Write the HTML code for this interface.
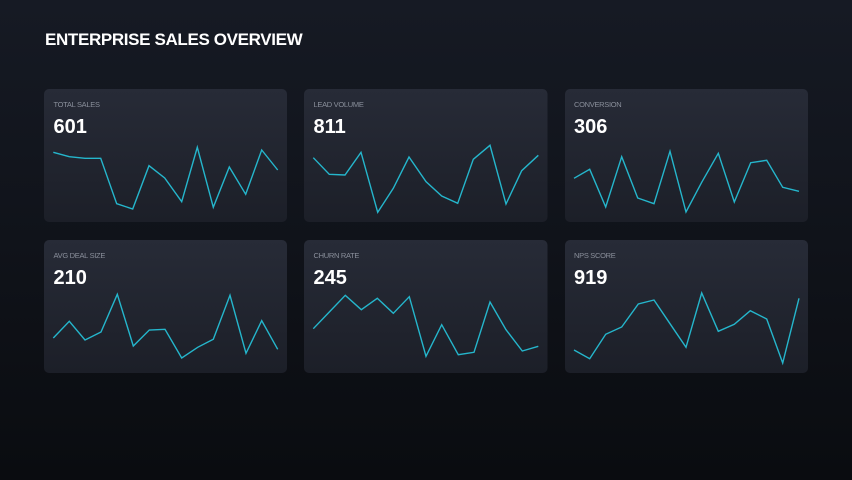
<!DOCTYPE html>
<html>
<head>
<meta charset="utf-8">
<style>
html,body{margin:0;padding:0;}
body{width:852px;height:480px;overflow:hidden;background:linear-gradient(180deg,#161a24 0%,#10131a 50%,#0a0c10 100%);}
svg{position:absolute;left:0;top:0;}
</style>
</head>
<body>
<svg width="852" height="480" viewBox="0 0 852 480" xmlns="http://www.w3.org/2000/svg">
  <defs>
    <linearGradient id="cg" x1="0" y1="0" x2="0" y2="1">
      <stop offset="0" stop-color="#272b37"/>
      <stop offset="1" stop-color="#1c1f28"/>
    </linearGradient>
  </defs>
  <text x="45" y="45" font-family="Liberation Sans, sans-serif" font-weight="bold" font-size="17" fill="#ffffff" letter-spacing="-0.35">ENTERPRISE SALES OVERVIEW</text>

  <g>
    <rect x="44" y="89" width="243" height="133" rx="5" fill="url(#cg)"/>
    <rect x="304" y="89" width="243.5" height="133" rx="5" fill="url(#cg)"/>
    <rect x="565" y="89" width="243" height="133" rx="5" fill="url(#cg)"/>
    <rect x="44" y="240" width="243" height="133" rx="5" fill="url(#cg)"/>
    <rect x="304" y="240" width="243.5" height="133" rx="5" fill="url(#cg)"/>
    <rect x="565" y="240" width="243" height="133" rx="5" fill="url(#cg)"/>
  </g>

  <g font-family="Liberation Sans, sans-serif" font-size="7.5" fill="#8a8f9b" letter-spacing="-0.3">
    <text x="53.5" y="107">TOTAL SALES</text>
    <text x="313.5" y="107">LEAD VOLUME</text>
    <text x="574" y="107">CONVERSION</text>
    <text x="53.5" y="258">AVG DEAL SIZE</text>
    <text x="313.5" y="258">CHURN RATE</text>
    <text x="574" y="258">NPS SCORE</text>
  </g>
  <g font-family="Liberation Sans, sans-serif" font-size="20" font-weight="bold" fill="#ffffff">
    <text x="53.5" y="133">601</text>
    <text x="313.5" y="133">811</text>
    <text x="574" y="133">306</text>
    <text x="53.5" y="284">210</text>
    <text x="313.5" y="284">245</text>
    <text x="574" y="284">919</text>
  </g>

  <g fill="none" stroke="#25b6cc" stroke-width="1.4" stroke-linejoin="miter">
    <polyline points="53.3,152.3 69.3,156.7 85,158.3 100.7,158.3 116.7,203.7 132.7,209 149,165.7 164.7,178 181.7,201.7 197.3,147.3 213.3,207.3 229.3,167 245.7,194.3 261.7,150 277.7,170"/>
    <polyline points="313.3,157.7 329.3,174.3 345,175 361,152.3 377.7,212.3 393.3,188.3 409,157 426,181.7 441.7,196 457.7,203.3 473.3,159.3 490,145.3 506,204 521.7,170.7 538.3,155.3"/>
    <polyline points="574,178.3 589.7,169.3 605.7,207 621.7,156.7 637.7,198 654,203.7 670,151.3 686,212 701.7,182.3 718.3,153.3 734.3,202 750.7,162.7 766.7,160.3 782.7,187.3 799,191.3"/>
    <polyline points="53.3,338 69.3,321.3 85,340 101,332 117.3,294.3 133.3,346 149.3,330 165,329.3 181.7,358 197.7,347.3 213.3,339.3 230,295.3 246,353.3 261.7,320.7 277.7,349.3"/>
    <polyline points="313.3,328.7 329.3,312 345.3,295.3 361.3,309.7 377.3,298.3 393.3,313.3 409.3,296.7 426,356.3 441.7,324.7 458.3,354.7 474,352.3 490,302 506,329.7 522.3,351 538.3,346.3"/>
    <polyline points="574,350 589.7,358.7 605.7,334.3 621.7,327 638.3,304 654,300 670,323.7 686,347.3 701.7,293 718.3,331.3 734.3,324.3 750.3,310.7 766.7,319 782.7,363 799,298.3"/>
  </g>
</svg>
</body>
</html>
